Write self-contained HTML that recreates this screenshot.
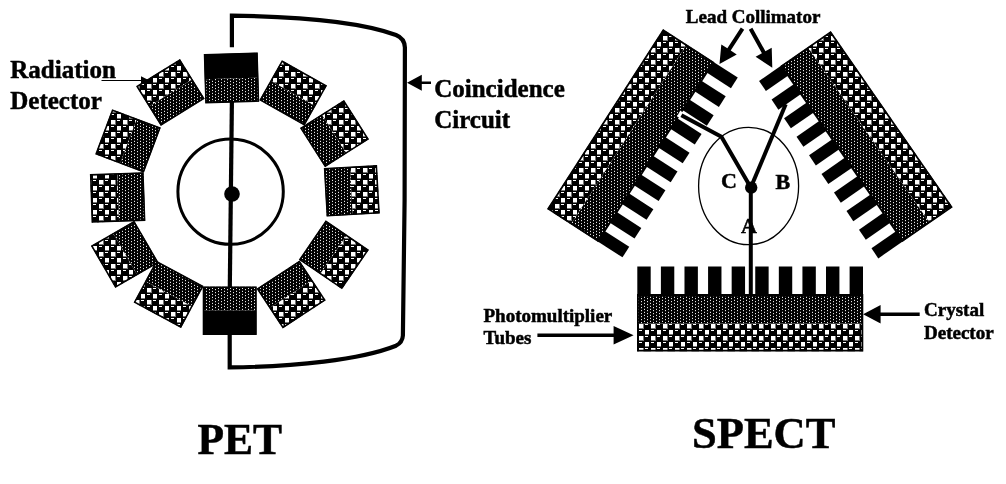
<!DOCTYPE html>
<html><head><meta charset="utf-8"><title>PET vs SPECT</title>
<style>
html,body{margin:0;padding:0;background:#fff;}
body{width:1006px;height:484px;overflow:hidden;}
svg{display:block;will-change:transform;}
text{font-family:"Liberation Serif",serif;font-weight:bold;fill:#000;stroke:#000;stroke-width:0.5px;}
</style></head><body>
<svg width="1006" height="484" viewBox="0 0 1006 484">
<defs>
<pattern id="chk" x="637" y="323" width="12" height="12" patternUnits="userSpaceOnUse" shape-rendering="crispEdges">
<rect width="12" height="12" fill="#000"/>
<rect x="1.5" y="0.5" width="5" height="5" fill="#777"/>
<rect x="7.5" y="6.5" width="5" height="5" fill="#777"/>
<rect x="2" y="1" width="4" height="4" fill="#fff"/>
<rect x="8" y="7" width="4" height="4" fill="#fff"/>
<rect x="8" y="1" width="3" height="1" fill="#fff"/>
<rect x="2" y="7" width="3" height="1" fill="#fff"/>
</pattern>
<pattern id="fine" x="640" y="298" width="6" height="3" patternUnits="userSpaceOnUse" shape-rendering="crispEdges">
<rect width="6" height="3" fill="#000"/>
<rect x="1" y="0" width="1" height="1" fill="#e4e4e4"/>
<rect x="1" y="1" width="1" height="1" fill="#2c2c2c"/>
<rect x="4" y="1" width="1" height="1" fill="#2c2c2c"/>
<rect x="4" y="2" width="1" height="1" fill="#e4e4e4"/>
</pattern>
</defs>
<rect width="1006" height="484" fill="#fff"/>

<!-- PET -->
<circle cx="230.6" cy="191.6" r="52.7" fill="none" stroke="#000" stroke-width="3"/>
<polygon points="204.06,54.41 257.47,52.8 258.22,77.63 204.81,79.24" fill="#000"/>
<polygon points="204.81,79.24 258.22,77.63 258.94,101.49 205.53,103.1" fill="url(#fine)"/>
<polygon points="204.58,54.89 256.99,53.31 258.42,101.01 206.01,102.59" fill="none" stroke="#000" stroke-width="1.6"/>
<polygon points="281.96,60.54 326.66,85.72 315.3,105.89 270.6,80.7" fill="url(#chk)"/>
<polygon points="270.6,80.7 315.3,105.89 304.39,125.26 259.69,100.08" fill="url(#fine)"/>
<polygon points="282.15,61.22 325.98,85.91 304.2,124.58 260.37,99.89" fill="none" stroke="#000" stroke-width="1.6"/>
<polygon points="343.91,100.31 368.64,139.21 346.43,153.33 321.7,114.42" fill="url(#chk)"/>
<polygon points="321.7,114.42 346.43,153.33 325.09,166.89 300.36,127.99" fill="url(#fine)"/>
<polygon points="343.76,101 367.95,139.06 325.24,166.2 301.05,128.14" fill="none" stroke="#000" stroke-width="1.6"/>
<polygon points="376.81,165.37 379.51,213.31 352.65,214.82 349.95,166.89" fill="url(#chk)"/>
<polygon points="349.95,166.89 352.65,214.82 326.84,216.28 324.14,168.34" fill="url(#fine)"/>
<polygon points="376.34,165.9 378.98,212.84 327.31,215.75 324.67,168.81" fill="none" stroke="#000" stroke-width="1.6"/>
<polygon points="368.55,249.93 341.94,288.93 320.14,274.06 346.75,235.06" fill="url(#chk)"/>
<polygon points="346.75,235.06 320.14,274.06 299.2,259.77 325.81,220.77" fill="url(#fine)"/>
<polygon points="367.85,250.06 341.81,288.23 299.9,259.64 325.94,221.47" fill="none" stroke="#000" stroke-width="1.6"/>
<polygon points="325.37,300.27 282.8,328.2 269.6,308.1 312.18,280.16" fill="url(#chk)"/>
<polygon points="312.18,280.16 269.6,308.1 256.93,288.78 299.5,260.85" fill="url(#fine)"/>
<polygon points="324.68,300.12 282.94,327.51 257.62,288.93 299.36,261.54" fill="none" stroke="#000" stroke-width="1.6"/>
<polygon points="256.4,334.6 203,334.6 203,310.17 256.4,310.17" fill="#000"/>
<polygon points="256.4,310.17 203,310.17 203,286.7 256.4,286.7" fill="url(#fine)"/>
<polygon points="255.9,334.1 203.5,334.1 203.5,287.2 255.9,287.2" fill="none" stroke="#000" stroke-width="1.6"/>
<polygon points="180.99,327.66 134.01,302.39 145.38,281.25 192.36,306.52" fill="url(#chk)"/>
<polygon points="192.36,306.52 145.38,281.25 156.31,260.94 203.29,286.21" fill="url(#fine)"/>
<polygon points="180.79,326.98 134.69,302.18 156.51,261.62 202.61,286.42" fill="none" stroke="#000" stroke-width="1.6"/>
<polygon points="115.39,287.62 91.23,245.95 113.15,233.24 137.31,274.91" fill="url(#chk)"/>
<polygon points="137.31,274.91 113.15,233.24 134.21,221.03 158.37,262.7" fill="url(#fine)"/>
<polygon points="115.57,286.93 91.92,246.13 134.03,221.72 157.68,262.52" fill="none" stroke="#000" stroke-width="1.6"/>
<polygon points="91.9,222.49 90.2,174.39 117.33,173.43 119.03,221.53" fill="url(#chk)"/>
<polygon points="119.03,221.53 117.33,173.43 143.4,172.51 145.1,220.61" fill="url(#fine)"/>
<polygon points="92.38,221.97 90.71,174.88 142.92,173.03 144.59,220.12" fill="none" stroke="#000" stroke-width="1.6"/>
<polygon points="95.52,154.18 112.27,109.61 136.86,118.85 120.11,163.42" fill="url(#chk)"/>
<polygon points="120.11,163.42 136.86,118.85 160.48,127.72 143.73,172.29" fill="url(#fine)"/>
<polygon points="96.17,153.89 112.56,110.25 159.83,128.01 143.44,171.65" fill="none" stroke="#000" stroke-width="1.6"/>
<polygon points="136.45,86.37 179.91,59.3 192.37,79.31 148.92,106.38" fill="url(#chk)"/>
<polygon points="148.92,106.38 192.37,79.31 204.35,98.53 160.89,125.6" fill="url(#fine)"/>
<polygon points="137.14,86.53 179.75,59.99 203.66,98.37 161.05,124.91" fill="none" stroke="#000" stroke-width="1.6"/>
<line x1="231.9" y1="101" x2="229.8" y2="288" stroke="#000" stroke-width="4.2"/>
<circle cx="232" cy="194" r="7.8" fill="#000"/>
<path d="M231.9 47.3 L231.9 15.7 C295 16.5 360 22 396 35 Q404.6 38.5 404.9 47.5 L404.6 200 L402.9 335.5 Q402.5 342.5 396 345.7 C360 360 295 366.5 229.7 367.4 L229.7 334" fill="none" stroke="#000" stroke-width="4.2" stroke-linejoin="miter"/>
<path d="M407 82.8 L421.8 74.8 L421.8 81.6 L431 81.6 L431 84 L421.8 84 L421.8 90.8 Z" fill="#000"/>
<path d="M101.5 79.9 L141 79.9 L141 76.3 L149.5 80.4 L141 84.5 L141 80.9 L101.5 80.9 Z" fill="#000"/>
<!-- SPECT -->
<ellipse cx="748.6" cy="186" rx="50" ry="58.7" fill="none" stroke="#000" stroke-width="1.3"/>
<polygon points="863,295.5 849.6,295.5 849.6,266.5 863,266.5" fill="#000"/><polygon points="839.41,295.5 826.01,295.5 826.01,266.5 839.41,266.5" fill="#000"/><polygon points="815.82,295.5 802.42,295.5 802.42,266.5 815.82,266.5" fill="#000"/><polygon points="792.23,295.5 778.83,295.5 778.83,266.5 792.23,266.5" fill="#000"/><polygon points="768.64,295.5 755.24,295.5 755.24,266.5 768.64,266.5" fill="#000"/><polygon points="745.06,295.5 731.66,295.5 731.66,266.5 745.06,266.5" fill="#000"/><polygon points="721.47,295.5 708.07,295.5 708.07,266.5 721.47,266.5" fill="#000"/><polygon points="697.88,295.5 684.48,295.5 684.48,266.5 697.88,266.5" fill="#000"/><polygon points="674.29,295.5 660.89,295.5 660.89,266.5 674.29,266.5" fill="#000"/><polygon points="650.7,295.5 637.3,295.5 637.3,266.5 650.7,266.5" fill="#000"/><polygon points="863,351.2 637.3,351.2 637.3,323.4 863,323.4" fill="url(#chk)"/><polygon points="863,323.4 637.3,323.4 637.3,295 863,295" fill="url(#fine)"/><polygon points="862.4,350.6 637.9,350.6 637.9,295 862.4,295" fill="none" stroke="#000" stroke-width="1.8"/>
<polygon points="597.41,241.23 604.24,230.64 629.26,246.77 622.46,257.37" fill="#000"/><polygon points="609.51,222.46 616.34,211.87 641.32,227.97 634.52,238.57" fill="#000"/><polygon points="621.61,203.69 628.44,193.1 653.37,209.17 646.57,219.77" fill="#000"/><polygon points="633.71,184.91 640.53,174.32 665.43,190.36 658.63,200.97" fill="#000"/><polygon points="645.81,166.14 652.63,155.55 677.48,171.56 670.68,182.17" fill="#000"/><polygon points="657.9,147.37 664.73,136.78 689.53,152.76 682.73,163.37" fill="#000"/><polygon points="670,128.6 676.83,118 701.59,133.96 694.79,144.57" fill="#000"/><polygon points="682.1,109.82 688.93,99.23 713.64,115.16 706.84,125.77" fill="#000"/><polygon points="694.2,91.05 701.02,80.46 725.7,96.36 718.9,106.97" fill="#000"/><polygon points="706.3,72.28 713.12,61.69 737.75,77.56 730.95,88.17" fill="#000"/><polygon points="547.4,209 663.11,29.45 686.64,44.62 570.94,224.17" fill="url(#chk)"/><polygon points="570.94,224.17 686.64,44.62 713.54,61.96 597.83,241.5" fill="url(#fine)"/><polygon points="548.23,208.82 663.29,30.28 713.22,62.46 598.16,241" fill="none" stroke="#000" stroke-width="1.8"/>
<polygon points="781.7,65.33 788.65,75.36 765.9,91.11 759.09,80.98" fill="#000"/><polygon points="794.45,83.74 801.39,93.77 778.38,109.7 771.58,99.57" fill="#000"/><polygon points="807.19,102.14 814.14,112.17 790.87,128.28 784.07,118.16" fill="#000"/><polygon points="819.94,120.55 826.88,130.58 803.36,146.87 796.55,136.74" fill="#000"/><polygon points="832.68,138.96 839.63,148.99 815.84,165.46 809.04,155.33" fill="#000"/><polygon points="845.43,157.36 852.37,167.39 828.33,184.04 821.53,173.91" fill="#000"/><polygon points="858.17,175.77 865.12,185.8 840.82,202.63 834.01,192.5" fill="#000"/><polygon points="870.92,194.18 877.86,204.21 853.31,221.21 846.5,211.08" fill="#000"/><polygon points="883.66,212.58 890.61,222.61 865.79,239.8 858.99,229.67" fill="#000"/><polygon points="896.41,230.99 903.36,241.02 878.28,258.38 871.48,248.26" fill="#000"/><polygon points="830.7,31.4 952.36,207.09 929.58,222.86 807.93,47.17" fill="url(#chk)"/><polygon points="807.93,47.17 929.58,222.86 902.94,241.31 781.29,65.61" fill="url(#fine)"/><polygon points="830.55,32.23 951.52,206.94 902.6,240.81 781.63,66.11" fill="none" stroke="#000" stroke-width="1.8"/>
<line x1="750.8" y1="187" x2="750.8" y2="295" stroke="#000" stroke-width="4"/>
<polyline points="750.8,187.6 785.7,104.2" fill="none" stroke="#000" stroke-width="4"/>
<polyline points="699,125 681.4,115.2" fill="none" stroke="#fff" stroke-width="6.4" stroke-linecap="square"/>
<polyline points="750.8,187.6 721.4,136.8 681.4,115.2" fill="none" stroke="#000" stroke-width="4" stroke-linejoin="miter"/>
<circle cx="751.2" cy="187.6" r="6.2" fill="#000"/>
<polygon points="740.82,27.61 727.36,48.34 721.32,44.41 719.5,64.1 736.75,54.44 730.71,50.51 744.18,29.79" fill="#000"/>
<polygon points="748.85,29.67 761.91,53.21 755.62,56.7 772.3,67.8 771.71,47.77 765.41,51.27 752.35,27.73" fill="#000"/>
<polygon points="537.4,337.1 613.6,337.1 613.6,344.5 633.6,335.3 613.6,326.1 613.6,333.5 537.4,333.5" fill="#000"/>
<polygon points="919.7,312.5 880.6,312.5 880.6,305 863.1,314.3 880.6,323.6 880.6,316.1 919.7,316.1" fill="#000"/>
<text x="10.3" y="77.8" font-size="25">Radiation</text>
<text x="10.3" y="108.6" font-size="25">Detector</text>
<text x="434.2" y="97.1" font-size="25">Coincidence</text>
<text x="434.2" y="127.6" font-size="25">Circuit</text>
<text x="685.8" y="23.3" font-size="19">Lead Collimator</text>
<text x="483.5" y="321.7" font-size="19">Photomultiplier</text>
<text x="483.5" y="343.6" font-size="19">Tubes</text>
<text x="924" y="315.8" font-size="19">Crystal</text>
<text x="924" y="338.8" font-size="19">Detector</text>
<text x="197.5" y="454.1" font-size="43.5">PET</text>
<text x="692" y="447.7" font-size="44.5">SPECT</text>
<text x="721" y="188" font-size="22">C</text>
<text x="775.5" y="188.5" font-size="22">B</text>
<text x="741" y="232.5" font-size="22">A</text>
</svg></body></html>
